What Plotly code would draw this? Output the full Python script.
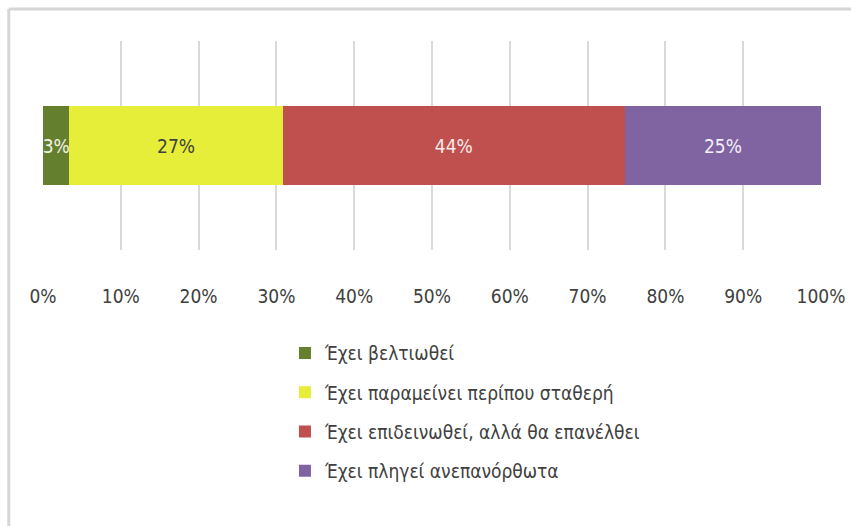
import plotly.graph_objects as go

categories = [""]
series_names = [
    "Έχει βελτιωθεί",
    "Έχει παραμείνει περίπου σταθερή",
    "Έχει επιδεινωθεί, αλλά θα επανέλθει",
    "Έχει πληγεί ανεπανόρθωτα",
]
series_values = [3.4, 27.4, 44.0, 25.2]  # percent
colors = ["#64802f", "#e6ee3a", "#c0504d", "#8064a2"]
text_colors = ["#f2f2e6", "#404040", "#f7eaea", "#f4f0f8"]
tick_values = [0, 0.1, 0.2, 0.3, 0.4, 0.5, 0.6, 0.7, 0.8, 0.9, 1.0]
tick_labels = ["0%", "10%", "20%", "30%", "40%", "50%", "60%", "70%", "80%", "90%", "100%"]

FONT = "DejaVu Sans Condensed, Liberation Sans Narrow, Arial Narrow, sans-serif"

fig = go.Figure()
for i, (name, val) in enumerate(zip(series_names, series_values)):
    fig.add_trace(go.Bar(
        y=categories,
        x=[val / 100],
        name=name,
        orientation="h",
        marker=dict(color=colors[i], line=dict(width=0)),
        text=[f"{val:.0f}%"],
        textposition="inside",
        insidetextanchor="middle",
        textangle=0,
        constraintext="none",
        textfont=dict(color=text_colors[i], size=19, family=FONT),
        legendgroup=f"g{i}",
        hoverinfo="skip",
    ))

fig.update_layout(
    width=851,
    height=526,
    barmode="stack",
    bargap=0.62,
    plot_bgcolor="white",
    paper_bgcolor="white",
    margin=dict(l=43, r=30, t=41, b=276, autoexpand=False),
    font=dict(family=FONT, color="#404040", size=19),
    xaxis=dict(
        range=[0, 1],
        tickvals=tick_values,
        ticktext=tick_labels,
        showgrid=True,
        gridcolor="#d9d9d9",
        gridwidth=1.5,
        zeroline=False,
        showline=False,
        ticks="",
        ticklabelstandoff=33,
        automargin=False,
        tickfont=dict(size=19, color="#404040", family=FONT),
        fixedrange=True,
    ),
    yaxis=dict(
        showgrid=False,
        zeroline=False,
        showticklabels=False,
        automargin=False,
        fixedrange=True,
    ),
    showlegend=True,
    legend=dict(
        orientation="v",
        x=0.311,
        xanchor="left",
        y=-0.403,
        yanchor="top",
        traceorder="grouped",
        tracegroupgap=11.5,
        font=dict(size=19, color="#404040", family=FONT),
        bgcolor="rgba(0,0,0,0)",
        itemclick=False,
        itemdoubleclick=False,
    ),
    shapes=[
        dict(type="line", xref="paper", yref="paper", x0=-0.044, x1=1.06, y0=1.153, y1=1.153,
             line=dict(color="#d6d6d6", width=3)),
        dict(type="line", xref="paper", yref="paper", x0=-0.044, x1=-0.044, y0=1.153, y1=-1.35,
             line=dict(color="#d6d6d6", width=3)),
    ],
)

fig.write_html("out.html", config={"displayModeBar": False},
               post_script="document.body.style.margin='0';")
